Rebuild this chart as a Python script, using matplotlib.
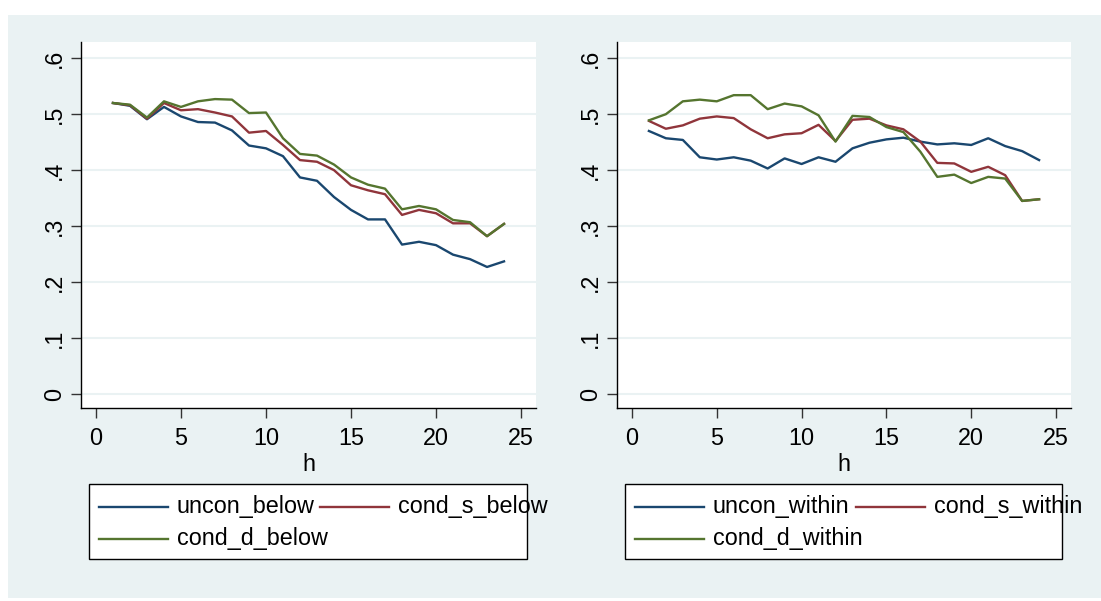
import matplotlib
matplotlib.use("Agg")
import matplotlib.pyplot as plt
from matplotlib.patches import Rectangle
from matplotlib.lines import Line2D

# ================= DATA =================
h = list(range(1, 25))

uncon_below = [0.520, 0.515, 0.491, 0.513, 0.496, 0.486, 0.485, 0.471, 0.444, 0.439,
               0.425, 0.387, 0.381, 0.352, 0.329, 0.312, 0.312, 0.267, 0.272, 0.266,
               0.249, 0.241, 0.227, 0.237]
cond_s_below = [0.520, 0.516, 0.492, 0.520, 0.507, 0.509, 0.503, 0.496, 0.467, 0.470,
                0.445, 0.418, 0.415, 0.400, 0.373, 0.364, 0.357, 0.320, 0.329, 0.323,
                0.305, 0.305, 0.282, 0.304]
cond_d_below = [0.520, 0.517, 0.494, 0.523, 0.513, 0.523, 0.527, 0.526, 0.502, 0.503,
                0.457, 0.429, 0.426, 0.410, 0.387, 0.374, 0.367, 0.330, 0.336, 0.330,
                0.311, 0.307, 0.282, 0.304]

uncon_within = [0.470, 0.457, 0.454, 0.423, 0.419, 0.423, 0.417, 0.403, 0.421, 0.411,
                0.423, 0.415, 0.439, 0.449, 0.455, 0.458, 0.451, 0.446, 0.448, 0.445,
                0.457, 0.443, 0.434, 0.418]
cond_s_within = [0.488, 0.474, 0.480, 0.492, 0.496, 0.493, 0.473, 0.457, 0.464, 0.466,
                 0.481, 0.452, 0.490, 0.492, 0.480, 0.473, 0.451, 0.413, 0.412, 0.397,
                 0.406, 0.391, 0.345, 0.348]
cond_d_within = [0.489, 0.500, 0.523, 0.526, 0.523, 0.534, 0.534, 0.509, 0.519, 0.514,
                 0.498, 0.451, 0.497, 0.495, 0.477, 0.468, 0.433, 0.388, 0.392, 0.377,
                 0.388, 0.385, 0.345, 0.348]

y_ticks = [0, 0.1, 0.2, 0.3, 0.4, 0.5, 0.6]
y_labels = ["0", ".1", ".2", ".3", ".4", ".5", ".6"]
x_ticks = [0, 5, 10, 15, 20, 25]

NAVY = "#1A476F"
MAROON = "#90353B"
GREEN = "#55752F"
BG = "#EAF2F3"
FS = 16.8

W, H = 1101, 601
plt.rcParams["font.family"] = ["Liberation Sans", "DejaVu Sans"]


def px(x, y):
    # pixel coords (top-left origin) -> figure fraction
    return x / W, 1 - y / H


fig = plt.figure(figsize=(W / 100, H / 100), dpi=100)
fig.patch.set_facecolor("white")
fig.add_artist(Rectangle(px(8, 598), (W - 8) / W, (598 - 15) / H,
                         transform=fig.transFigure, facecolor=BG,
                         edgecolor="none", zorder=0))


def make_panel(left, right, series, names):
    x0, y0 = px(left, 408)
    ax = fig.add_axes([x0, y0, (right - left) / W, (408 - 42) / H])
    ax.set_facecolor("white")
    for (vals, col) in series:
        ax.plot(h, vals, color=col, lw=1.7, zorder=3)
    ax.set_xlim(-0.88, 25.88)
    ax.set_ylim(-0.025, 0.629)
    ax.set_yticks(y_ticks)
    ax.set_yticklabels(y_labels, rotation=90, va="center")
    ax.set_xticks(x_ticks)
    ax.grid(axis="y", color=BG, lw=1.5, zorder=1)
    ax.set_axisbelow(True)
    for s in ["top", "right"]:
        ax.spines[s].set_visible(False)
    for s in ["left", "bottom"]:
        ax.spines[s].set_color("black")
        ax.spines[s].set_linewidth(1.0)
    ax.tick_params(axis="both", labelsize=FS, length=7, width=1.0, color="#333333")
    ax.tick_params(axis="y", pad=4)
    ax.tick_params(axis="x", pad=7)
    ax.set_xlabel("h", fontsize=FS, labelpad=2)

    # legend box, Stata style (text may overflow the frame)
    bx0, by0 = px(left + 8, 559)
    fig.add_artist(Rectangle((bx0, by0), (right - left - 17) / W, (559 - 484) / H,
                             transform=fig.transFigure, facecolor="white",
                             edgecolor="black", lw=1.0, zorder=1))
    slots = [(left + 18, 507), (left + 239, 507), (left + 18, 539)]
    for (name, (vals, col)), (sx, sy) in zip(zip(names, series), slots):
        fig.add_artist(Line2D([sx / W, (sx + 69) / W], [1 - sy / H, 1 - sy / H],
                              transform=fig.transFigure, color=col, lw=1.7, zorder=2))
        fig.text((sx + 78) / W, 1 - sy / H, name, fontsize=FS, va="center",
                 ha="left", zorder=3)
    return ax


make_panel(81, 536,
           [(uncon_below, NAVY), (cond_s_below, MAROON), (cond_d_below, GREEN)],
           ["uncon_below", "cond_s_below", "cond_d_below"])
make_panel(617, 1071,
           [(uncon_within, NAVY), (cond_s_within, MAROON), (cond_d_within, GREEN)],
           ["uncon_within", "cond_s_within", "cond_d_within"])

fig.savefig("out.png", dpi=100, facecolor=fig.get_facecolor())
